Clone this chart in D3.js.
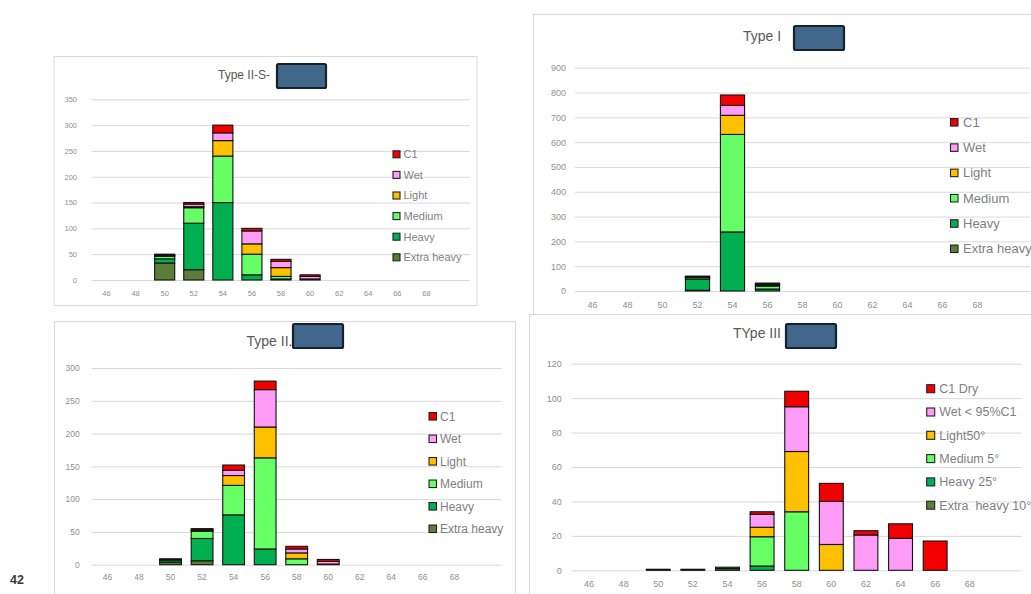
<!DOCTYPE html>
<html>
<head>
<meta charset="utf-8">
<script src="https://cdn.jsdelivr.net/npm/d3@7"></script>
<style>
  html, body { margin: 0; padding: 0; background: #fff; }
  svg { display: block; }
  text { font-family: "Liberation Sans", Arial, sans-serif; }
</style>
</head>
<body>
<svg id="page" width="1031" height="594"></svg>
<script>
// Kernel size classes (mm). The final slot is an empty category, so it carries no label.
const sizes = [46, 48, 50, 52, 54, 56, 58, 60, 62, 64, 66, 68, 70];
const tickLabels = ["46", "48", "50", "52", "54", "56", "58", "60", "62", "64", "66", "68", ""];

// Stack order, bottom to top
const seriesKeys = ["extraHeavy", "heavy", "medium", "light", "wet", "c1"];
const seriesColors = ["#5a7d3a", "#00b050", "#66ff66", "#ffc000", "#ff9cf7", "#f20000"];

const legendLabels = ["C1", "Wet", "Light", "Medium", "Heavy", "Extra heavy"];
const legendLabelsIII = ["C1 Dry", "Wet < 95%C1", "Light50°", "Medium 5°", "Heavy 25°", "Extra  heavy 10°"];

// Type II-S
const iisExtraHeavy = [0, 0, 33, 20, 0, 0, 0, 0, 0, 0, 0, 0, 0];
const iisHeavy      = [0, 0, 8, 90, 150, 10, 2, 0, 0, 0, 0, 0, 0];
const iisMedium     = [0, 0, 5, 30, 90, 40, 5, 0, 0, 0, 0, 0, 0];
const iisLight      = [0, 0, 1, 2, 30, 20, 17, 2, 0, 0, 0, 0, 0];
const iisWet        = [0, 0, 1, 5, 15, 25, 12, 5, 0, 0, 0, 0, 0];
const iisC1         = [0, 0, 2, 3, 15, 5, 4, 3, 0, 0, 0, 0, 0];

// Type I
const iExtraHeavy = [0, 0, 0, 3, 0, 0, 0, 0, 0, 0, 0, 0, 0];
const iHeavy      = [0, 0, 0, 45, 238, 8, 0, 0, 0, 0, 0, 0, 0];
const iMedium     = [0, 0, 0, 6, 393, 12, 0, 0, 0, 0, 0, 0, 0];
const iLight      = [0, 0, 0, 2, 77, 4, 0, 0, 0, 0, 0, 0, 0];
const iWet        = [0, 0, 0, 1, 40, 3, 0, 0, 0, 0, 0, 0, 0];
const iC1         = [0, 0, 0, 3, 42, 5, 0, 0, 0, 0, 0, 0, 0];

// Type II
const iiExtraHeavy = [0, 0, 4, 6, 0, 0, 0, 0, 0, 0, 0, 0, 0];
const iiHeavy      = [0, 0, 3, 34, 76, 24, 0, 0, 0, 0, 0, 0, 0];
const iiMedium     = [0, 0, 1, 11, 45, 139, 9, 0, 0, 0, 0, 0, 0];
const iiLight      = [0, 0, 0, 1, 15, 47, 9, 1, 0, 0, 0, 0, 0];
const iiWet        = [0, 0, 0, 1, 8, 57, 6, 4, 0, 0, 0, 0, 0];
const iiC1         = [0, 0, 1, 2, 8, 13, 4, 3, 0, 0, 0, 0, 0];

// Type III
const iiiExtraHeavy = [0, 0, 0.6, 0.6, 1, 0, 0, 0, 0, 0, 0, 0, 0];
const iiiHeavy      = [0, 0, 0, 0, 0.8, 2.5, 0, 0, 0, 0, 0, 0, 0];
const iiiMedium     = [0, 0, 0, 0, 0, 17, 34, 0, 0, 0, 0, 0, 0];
const iiiLight      = [0, 0, 0, 0, 0, 5.5, 35, 15, 0, 0, 0, 0, 0];
const iiiWet        = [0, 0, 0, 0, 0, 7.5, 26, 25, 20.5, 18.5, 0, 0, 0];
const iiiC1         = [0, 0, 0, 0, 0, 1.5, 9, 10.5, 2.5, 8.5, 17, 0, 0];

function rows(cols) {
  return sizes.map((s, i) => {
    const r = { size: String(s) };
    seriesKeys.forEach((k, j) => { r[k] = cols[j][i]; });
    return r;
  });
}

const panels = [
  {
    title: "Type II-S-", titleX: 218, titleY: 79, titleSize: 12,
    redact: [277, 64, 49, 24],
    frame: [54, 56.5, 423, 249],
    x0: 92, x1: 470, zeroY: 280, topY: 99.3, yMax: 350, yStep: 50,
    yFont: 7.5, yPad: 15, xFont: 7.5, xPad: 10.3,
    legend: { sqX: 393, textX: 403.5, y0: 154.3, dy: 20.6, sq: 7, font: 11, labels: legendLabels },
    data: rows([iisExtraHeavy, iisHeavy, iisMedium, iisLight, iisWet, iisC1])
  },
  {
    title: "Type I", titleX: 743, titleY: 41, titleSize: 14,
    redact: [794, 26, 50, 24],
    frame: [533.5, 14.5, 520, 302],
    x0: 575, x1: 1030, zeroY: 291, topY: 67.7, yMax: 900, yStep: 100,
    yFont: 9, yPad: 9, xFont: 9, xPad: 10.8,
    legend: { sqX: 950.5, textX: 963, y0: 122.3, dy: 25.3, sq: 7.5, font: 13, labels: legendLabels },
    data: rows([iExtraHeavy, iHeavy, iMedium, iLight, iWet, iC1])
  },
  {
    title: "Type II.", titleX: 246.5, titleY: 345.5, titleSize: 14,
    redact: [293, 324, 50, 24],
    frame: [54.5, 321.5, 461, 290],
    x0: 91.7, x1: 501.7, zeroY: 564.7, topY: 368, yMax: 300, yStep: 50,
    yFont: 8.5, yPad: 12, xFont: 8.5, xPad: 9,
    legend: { sqX: 429, textX: 440, y0: 416.3, dy: 22.5, sq: 7.5, font: 12, labels: legendLabels },
    data: rows([iiExtraHeavy, iiHeavy, iiMedium, iiLight, iiWet, iiC1])
  },
  {
    title: "TYpe III", titleX: 733, titleY: 338, titleSize: 14,
    redact: [786, 324, 50, 24],
    frame: [529.5, 314.5, 520, 290],
    x0: 571.7, x1: 1021.7, zeroY: 570.3, topY: 363.7, yMax: 120, yStep: 20,
    yFont: 9, yPad: 10, xFont: 9, xPad: 10.1,
    legend: { sqX: 926.7, textX: 939.3, y0: 388.7, dy: 23.3, sq: 8, font: 12.5, labels: legendLabelsIII },
    data: rows([iiiExtraHeavy, iiiHeavy, iiiMedium, iiiLight, iiiWet, iiiC1])
  }
];

const svg = d3.select("#page");

// page number
svg.append("text")
  .attr("x", 10).attr("y", 584)
  .attr("font-size", 12.5).attr("font-weight", "bold")
  .attr("fill", "#3a3a3a")
  .text("42");

const stack = d3.stack().keys(seriesKeys);
const color = d3.scaleOrdinal().domain(seriesKeys).range(seriesColors);

panels.forEach(p => {
  const g = svg.append("g");

  // chart frame
  g.append("rect")
    .attr("x", p.frame[0]).attr("y", p.frame[1])
    .attr("width", p.frame[2]).attr("height", p.frame[3])
    .attr("fill", "#fff").attr("stroke", "#d9d9d9").attr("stroke-width", 1);

  const x = d3.scaleBand()
    .domain(p.data.map(d => d.size))
    .range([p.x0, p.x1])
    .paddingInner(0.31).paddingOuter(0.155);

  const y = d3.scaleLinear().domain([0, p.yMax]).range([p.zeroY, p.topY]);
  const yTicks = d3.range(0, p.yMax + p.yStep / 2, p.yStep);

  // horizontal gridlines
  const grid = g.append("g")
    .attr("transform", `translate(${p.x0},0)`)
    .call(d3.axisLeft(y).tickValues(yTicks).tickSize(-(p.x1 - p.x0)).tickFormat(""));
  grid.select(".domain").remove();
  grid.selectAll("line").attr("stroke", "#d9d9d9").attr("stroke-width", 1);

  // value axis labels
  const ya = g.append("g")
    .attr("transform", `translate(${p.x0},0)`)
    .call(d3.axisLeft(y).tickValues(yTicks).tickSize(0).tickPadding(p.yPad));
  ya.select(".domain").remove();
  ya.selectAll("text")
    .attr("font-family", "'Liberation Sans', Arial, sans-serif")
    .attr("font-size", p.yFont).attr("fill", "#8f8f8f");

  // category axis labels
  const labelOf = d3.scaleOrdinal().domain(sizes.map(String)).range(tickLabels);
  const xa = g.append("g")
    .attr("transform", `translate(0,${p.zeroY})`)
    .call(d3.axisBottom(x).tickSize(0).tickPadding(p.xPad).tickFormat(d => labelOf(d)));
  xa.select(".domain").remove();
  xa.selectAll("text")
    .attr("font-family", "'Liberation Sans', Arial, sans-serif")
    .attr("font-size", p.xFont).attr("fill", "#8f8f8f");

  // stacked bars
  const layers = stack(p.data);
  g.append("g").selectAll("g")
    .data(layers)
    .join("g")
      .attr("fill", d => color(d.key))
    .selectAll("rect")
    .data(d => d.filter(v => v[1] - v[0] > 0))
    .join("rect")
      .attr("x", d => x(d.data.size))
      .attr("width", x.bandwidth())
      .attr("y", d => y(d[1]))
      .attr("height", d => y(d[0]) - y(d[1]))
      .attr("stroke", "#111")
      .attr("stroke-width", 1.1);

  // legend, top entry is the top of the stack
  const L = p.legend;
  const order = seriesKeys.slice().reverse();
  const lg = g.append("g");
  order.forEach((k, i) => {
    const cy = L.y0 + i * L.dy;
    lg.append("rect")
      .attr("x", L.sqX).attr("y", cy - L.sq / 2)
      .attr("width", L.sq).attr("height", L.sq)
      .attr("fill", color(k)).attr("stroke", "#222").attr("stroke-width", 1.1);
    lg.append("text")
      .attr("x", L.textX).attr("y", cy).attr("dy", "0.35em")
      .attr("font-size", L.font).attr("fill", "#7f7f7f")
      .style("white-space", "pre")
      .text(L.labels[i]);
  });

  // title
  g.append("text")
    .attr("x", p.titleX).attr("y", p.titleY)
    .attr("font-size", p.titleSize).attr("fill", "#595959")
    .style("white-space", "pre")
    .text(p.title);

  // blanked-out name box next to the title
  g.append("rect")
    .attr("x", p.redact[0]).attr("y", p.redact[1])
    .attr("width", p.redact[2]).attr("height", p.redact[3])
    .attr("rx", 1.5)
    .attr("fill", "#41678a").attr("stroke", "#16212c").attr("stroke-width", 2.2);
});
</script>
</body>
</html>
